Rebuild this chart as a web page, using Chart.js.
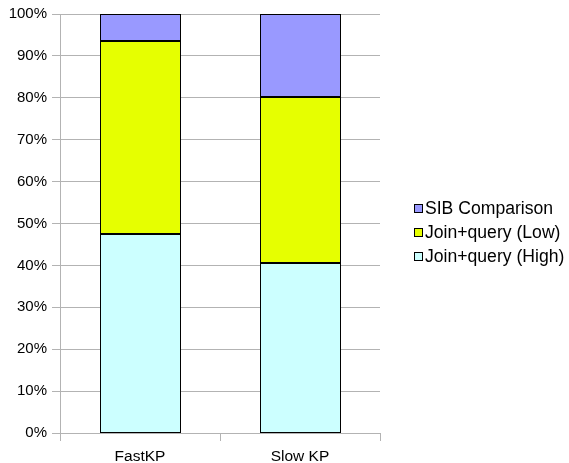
<!DOCTYPE html>
<html>
<head>
<meta charset="utf-8">
<script src="https://cdn.jsdelivr.net/npm/chart.js@4/dist/chart.umd.min.js"></script>
<style>
  html, body { margin: 0; padding: 0; background: #ffffff; }
  #wrap { width: 569px; height: 463px; }
</style>
</head>
<body>
<div id="wrap"><canvas id="chart" width="569" height="463"></canvas></div>
<script>
// Share of run time per phase, in percent of the total
const categories = ['FastKP', 'Slow KP'];
const joinHigh = [47.4, 40.5];
const joinLow = [46.2, 39.7];
const sibComparison = [6.4, 19.8];
const seriesNames = ['Join+query (High)', 'Join+query (Low)', 'SIB Comparison'];
const seriesColors = ['#ccffff', '#e6ff00', '#9999ff'];
const yTickValues = [0, 10, 20, 30, 40, 50, 60, 70, 80, 90, 100];

const FONT = '"Liberation Sans", Arial, sans-serif';
const GRID = '#b3b3b3';

// Crisp 1px black outline around every stacked segment, taken from the bar elements
const segmentOutline = {
  id: 'segmentOutline',
  afterDatasetsDraw(chart) {
    const ctx = chart.ctx;
    ctx.save();
    ctx.strokeStyle = '#000000';
    ctx.lineWidth = 1;
    chart.data.datasets.forEach((ds, i) => {
      chart.getDatasetMeta(i).data.forEach(el => {
        const p = el.getProps(['x', 'y', 'base', 'width'], true);
        const l = Math.round(p.x - p.width / 2) + 0.5;
        const r = Math.round(p.x + p.width / 2) + 0.5;
        const t = Math.round(Math.min(p.y, p.base)) + 0.5;
        const b = Math.round(Math.max(p.y, p.base)) - 0.5;
        ctx.strokeRect(l, t, r - l, b - t);
      });
    });
    ctx.restore();
  }
};

// Legend drawn at the right, top entry = top segment of the stack
const sideLegend = {
  id: 'sideLegend',
  afterDraw(chart) {
    const ctx = chart.ctx;
    const sets = chart.data.datasets.slice().reverse();
    ctx.save();
    ctx.font = '17.6px ' + FONT;
    ctx.textBaseline = 'middle';
    ctx.textAlign = 'left';
    sets.forEach((ds, i) => {
      const cy = 208 + i * 24;
      ctx.fillStyle = ds.backgroundColor;
      ctx.fillRect(414, cy - 4, 9, 9);
      ctx.strokeStyle = '#000000';
      ctx.lineWidth = 1;
      ctx.strokeRect(414.5, cy - 3.5, 8, 8);
      ctx.fillStyle = '#000000';
      ctx.fillText(ds.label, 425, cy + 1);
    });
    ctx.restore();
  }
};

const values = [joinHigh, joinLow, sibComparison];

new Chart(document.getElementById('chart'), {
  type: 'bar',
  data: {
    labels: categories,
    datasets: values.map((v, i) => ({
      label: seriesNames[i],
      data: v,
      backgroundColor: seriesColors[i],
      borderWidth: 0,
      inflateAmount: 0,
      barPercentage: 0.5,
      categoryPercentage: 1.0
    }))
  },
  options: {
    responsive: false,
    animation: false,
    devicePixelRatio: 1,
    layout: { padding: { left: 0, right: 189, top: 13, bottom: 0 } },
    plugins: {
      legend: { display: false },
      tooltip: { enabled: false }
    },
    scales: {
      x: {
        stacked: true,
        grid: {
          offset: true,
          color: c => (c.index === 0 || c.index === categories.length) ? GRID : 'rgba(0,0,0,0)',
          tickColor: GRID,
          tickLength: 8,
          lineWidth: 1
        },
        border: { color: GRID, width: 1 },
        ticks: {
          color: '#000000',
          font: { family: FONT, size: 15.5 },
          padding: 6
        },
        afterFit(scale) { scale.height = 30; }
      },
      y: {
        stacked: true,
        min: 0,
        max: 100,
        afterBuildTicks(scale) { scale.ticks = yTickValues.map(v => ({ value: v })); },
        grid: {
          color: GRID,
          tickColor: GRID,
          tickLength: 8,
          lineWidth: 1
        },
        border: { color: GRID, width: 1 },
        ticks: {
          color: '#000000',
          font: { family: FONT, size: 15 },
          padding: 5,
          callback: v => v + '%'
        },
        afterFit(scale) { scale.width = 60; }
      }
    }
  },
  plugins: [segmentOutline, sideLegend]
});
</script>
</body>
</html>
